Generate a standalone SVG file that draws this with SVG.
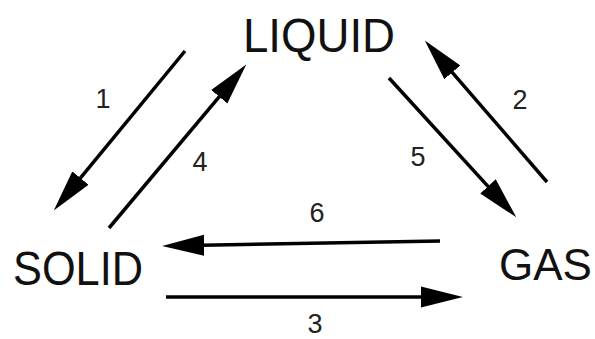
<svg xmlns="http://www.w3.org/2000/svg" width="595" height="339" viewBox="0 0 595 339">
<style>
.state{font-family:"Liberation Sans",Arial,sans-serif;font-size:48px;fill:#111;}
.num{font-family:"Liberation Sans",Arial,sans-serif;font-size:27px;fill:#222;text-anchor:middle;}
.arr{stroke:#000;stroke-width:3.5;fill:none;marker-end:url(#head);}
</style>
<defs>
<marker id="head" markerUnits="userSpaceOnUse" markerWidth="42" markerHeight="22" viewBox="0 0 40 20" refX="2" refY="10" orient="auto">
<path d="M0,0 L40,10 L0,20 z" fill="#000"/>
</marker>
</defs>
<rect width="595" height="339" fill="#fff"/>
<g id="liquid"><text class="state" x="243" y="52" textLength="152" lengthAdjust="spacingAndGlyphs">LIQUID</text></g>
<g id="solid"><text class="state" x="13" y="285" textLength="130" lengthAdjust="spacingAndGlyphs">SOLID</text></g>
<g id="gas"><text class="state" x="499" y="280" style="font-size:44px">GAS</text></g>
<g id="connectors">
<line class="arr" x1="185" y1="51" x2="79.1" y2="179.7"/>
<line class="arr" x1="109" y1="228" x2="220.6" y2="95.1"/>
<line class="arr" x1="547" y1="182" x2="450.9" y2="70.8"/>
<line class="arr" x1="389" y1="78" x2="489.4" y2="187.9"/>
<line class="arr" x1="440" y1="241" x2="202" y2="245.3"/>
<line class="arr" x1="166" y1="297" x2="423" y2="297"/>
<text class="num" x="103" y="108">1</text>
<text class="num" x="520" y="109">2</text>
<text class="num" x="315" y="333">3</text>
<text class="num" x="200" y="171">4</text>
<text class="num" x="418" y="166">5</text>
<text class="num" x="317" y="222">6</text>
</g>
</svg>
